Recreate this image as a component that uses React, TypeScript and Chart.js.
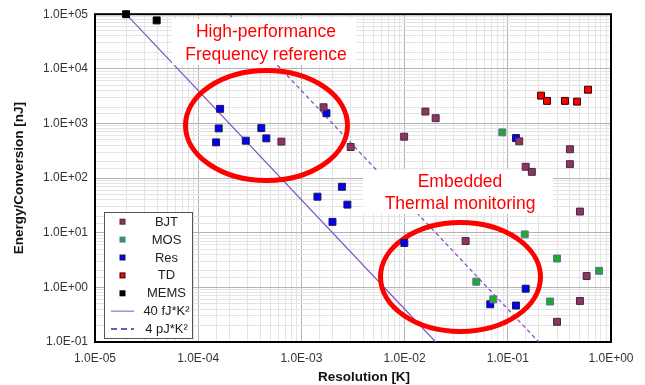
import React, { useEffect, useRef } from "react";
import { Chart, registerables } from "chart.js";

Chart.register(...registerables);

// ---------- data ----------
const bjtX = [6.4e-4, 1.64e-3, 3.0e-3, 9.9e-3, 1.59e-2, 2.0e-2, 0.129, 0.149, 0.171, 0.4, 0.4, 0.5, 3.9e-2, 0.58, 0.5, 0.3];
const bjtY = [465, 1980, 371, 573, 1650, 1250, 471, 161, 130, 337, 180, 24.4, 7.06, 1.61, 0.564, 0.234];

const mosX = [8.85e-2, 0.146, 0.3, 0.766, 4.95e-2, 7.24e-2, 0.257];
const mosY = [686, 9.33, 3.37, 2.01, 1.27, 0.605, 0.55];

const resX = [1.63e-4, 1.58e-4, 1.49e-4, 2.89e-4, 4.09e-4, 4.57e-4, 1.75e-3, 2.47e-3, 1.43e-3, 2.79e-3, 2.0e-3, 0.12, 9.94e-3, 0.149, 6.76e-2, 0.12];
const resY = [1850, 812, 451, 484, 822, 534, 1540, 69.5, 45.7, 32.7, 15.8, 540, 6.5, 0.946, 0.49, 0.465];

const tdX = [0.21, 0.24, 0.358, 0.469, 0.599];
const tdY = [3230, 2590, 2590, 2510, 4150];

const memsX = [2.0e-5, 3.96e-5];
const memsY = [1e5, 7.7e4];

// 40 fJ*K^2 and 4 pJ*K^2 limit lines (E = FoM / res^2)
const fj40X = [2e-5, 2e-2];
const fj40Y = [1e5, 0.1];
const pj4X = [2e-4, 0.2];
const pj4Y = [1e5, 0.1];

const xTickMin = 1e-5;
const xTickMax = 1;
const yTickMin = 0.1;
const yTickMax = 1e5;

const legendLabels = ["BJT", "MOS", "Res", "TD", "MEMS", "40 fJ*K\u00B2", "4 pJ*K\u00B2"];
const note1 = ["High-performance", "Frequency reference"];
const note2 = ["Embedded", "Thermal monitoring"];

// ---------- styles ----------
const FONT = "'Liberation Sans', Arial, sans-serif";
const bjtStyle = { fill: "#8a3562", stroke: "#4a2a3a" };
const mosStyle = { fill: "#22aa22", stroke: "#5a6cb0" };
const resStyle = { fill: "#0000ff", stroke: "#1a1a40" };
const tdStyle = { fill: "#ff0000", stroke: "#300000" };
const memsStyle = { fill: "#000000", stroke: "#000000" };
const lineColor = "#7a4fc0";

const toPts = (xs: number[], ys: number[]) => xs.map((x, i) => ({ x, y: ys[i] }));

const isDecade = (v: number) => {
  const l = Math.log10(v);
  return Math.abs(l - Math.round(l)) < 1e-6;
};

const fmtTick = (v: number) => {
  if (!isDecade(v)) return "";
  const r = Math.round(Math.log10(v));
  const sign = r < 0 ? "-" : "+";
  return "1.0E" + sign + String(Math.abs(r)).padStart(2, "0");
};

const gridColor = (ctx: any) => {
  const v = ctx.tick && ctx.tick.value;
  if (v == null) return "#e4e4e4";
  return isDecade(v) ? "#b4b4b4" : "#e4e4e4";
};

const markerDs = (label: string, xs: number[], ys: number[], st: { fill: string; stroke: string }) => ({
  label,
  data: toPts(xs, ys),
  backgroundColor: st.fill,
  borderColor: st.stroke,
  borderWidth: 1,
  pointStyle: "rect",
  pointRadius: 4.9,
  showLine: false,
  order: 1,
  clip: 8,
});

const annotPlugin = {
  id: "annot",
  beforeDatasetsDraw(chart: any) {
    const { ctx, chartArea: a } = chart;
    ctx.save();
    ctx.strokeStyle = "#000";
    ctx.lineWidth = 2;
    ctx.strokeRect(a.left, a.top, a.right - a.left, a.bottom - a.top);
    ctx.restore();
  },
  afterDatasetDraw(chart: any, args: any) {
    if (args.index !== 5) return;
    const { ctx } = chart;
    ctx.save();
    // white label backgrounds
    ctx.fillStyle = "#ffffff";
    ctx.fillRect(172, 19, 184, 46);
    ctx.fillRect(363, 170, 190, 44);
    // texts
    ctx.fillStyle = "#ff0000";
    ctx.font = `17.5px ${FONT}`;
    ctx.textAlign = "center";
    ctx.textBaseline = "alphabetic";
    ctx.fillText(note1[0], 266, 36.5);
    ctx.fillText(note1[1], 266, 59.5);
    ctx.fillText(note2[0], 460, 187);
    ctx.fillText(note2[1], 460, 208.5);
    // ellipses
    ctx.strokeStyle = "#ff0000";
    ctx.lineWidth = 5;
    ctx.beginPath();
    ctx.ellipse(266.5, 125.5, 81, 55, 0, 0, Math.PI * 2);
    ctx.stroke();
    ctx.beginPath();
    ctx.ellipse(460.5, 277, 80, 54.5, 0, 0, Math.PI * 2);
    ctx.stroke();
    ctx.restore();
  },
  afterDraw(chart: any) {
    const { ctx } = chart;
    ctx.save();
    // x axis title
    ctx.fillStyle = "#111";
    ctx.font = `bold 13.5px ${FONT}`;
    ctx.textAlign = "center";
    ctx.textBaseline = "middle";
    ctx.fillText("Resolution [K]", 364, 377);

    // legend box
    const lx = 104, ly = 212, lw = 88, lh = 126;
    ctx.fillStyle = "#ffffff";
    ctx.fillRect(lx, ly, lw, lh);
    ctx.strokeStyle = "#555";
    ctx.lineWidth = 1;
    ctx.strokeRect(lx + 0.5, ly + 0.5, lw, lh);
    const styles = [bjtStyle, mosStyle, resStyle, tdStyle, memsStyle];
    ctx.font = `13px ${FONT}`;
    ctx.textAlign = "center";
    ctx.textBaseline = "middle";
    for (let i = 0; i < legendLabels.length; i++) {
      const y = 221.7 + i * 17.9;
      if (i < 5) {
        const st = styles[i];
        ctx.fillStyle = st.stroke;
        ctx.fillRect(119.5, y - 3, 6, 6);
        ctx.fillStyle = st.fill;
        ctx.fillRect(120.5, y - 2, 4, 4);
      } else if (i === 5) {
        ctx.strokeStyle = "#a98bd9";
        ctx.lineWidth = 1.5;
        ctx.setLineDash([]);
        ctx.beginPath();
        ctx.moveTo(111, y);
        ctx.lineTo(134, y);
        ctx.stroke();
      } else {
        ctx.strokeStyle = lineColor;
        ctx.lineWidth = 2;
        ctx.setLineDash([6, 4]);
        ctx.beginPath();
        ctx.moveTo(111, y);
        ctx.lineTo(134, y);
        ctx.stroke();
        ctx.setLineDash([]);
      }
      ctx.fillStyle = "#222";
      ctx.fillText(legendLabels[i], 166.5, y + 0.5);
    }
    ctx.restore();
  },
};

export default function App() {
  const ref = useRef<HTMLCanvasElement | null>(null);

  useEffect(() => {
    document.body.style.margin = "0";
    const canvas = ref.current;
    if (!canvas) return;

    const chart = new Chart(canvas, {
      type: "scatter",
      data: {
        datasets: [
          markerDs("BJT", bjtX, bjtY, bjtStyle),
          markerDs("MOS", mosX, mosY, mosStyle),
          markerDs("Res", resX, resY, resStyle),
          markerDs("TD", tdX, tdY, tdStyle),
          markerDs("MEMS", memsX, memsY, memsStyle),
          {
            label: "40 fJ*K\u00B2",
            data: toPts(fj40X, fj40Y),
            showLine: true,
            borderColor: lineColor,
            borderWidth: 1.2,
            pointRadius: 0,
            order: 2,
          },
          {
            label: "4 pJ*K\u00B2",
            data: toPts(pj4X, pj4Y),
            showLine: true,
            borderColor: lineColor,
            borderWidth: 1.2,
            borderDash: [4, 3],
            pointRadius: 0,
            order: 2,
          },
        ] as any,
      },
      options: {
        responsive: false,
        animation: false,
        events: [],
        layout: { padding: { top: 12, right: 34, left: 0, bottom: 0 } },
        plugins: {
          legend: { display: false },
          tooltip: { enabled: false },
        },
        scales: {
          x: {
            type: "logarithmic",
            min: xTickMin,
            max: xTickMax,
            afterFit: (s: any) => {
              s.height = 43;
            },
            border: { display: false },
            grid: { color: gridColor, drawTicks: false, lineWidth: 1 },
            ticks: {
              autoSkip: false,
              maxRotation: 0,
              minRotation: 0,
              padding: 9,
              color: "#333",
              font: { family: FONT, size: 12 },
              callback: (v: any) => fmtTick(Number(v)),
            },
            title: { display: false },
          },
          y: {
            type: "logarithmic",
            min: yTickMin,
            max: yTickMax,
            afterFit: (s: any) => {
              s.width = 95;
            },
            border: { display: false },
            grid: { color: gridColor, drawTicks: false, lineWidth: 1 },
            ticks: {
              autoSkip: false,
              padding: 7,
              color: "#333",
              font: { family: FONT, size: 12 },
              callback: (v: any) => fmtTick(Number(v)),
            },
            title: {
              display: true,
              text: "Energy/Conversion [nJ]",
              color: "#111",
              font: { family: FONT, size: 13.5, weight: "bold" },
              padding: { top: 11, bottom: 0 },
            },
          },
        },
      } as any,
      plugins: [annotPlugin],
    });

    return () => chart.destroy();
  }, []);

  return (
    <div style={{ width: 645, height: 385, background: "#fff" }}>
      <canvas ref={ref} width={645} height={385} style={{ display: "block" }} />
    </div>
  );
}
